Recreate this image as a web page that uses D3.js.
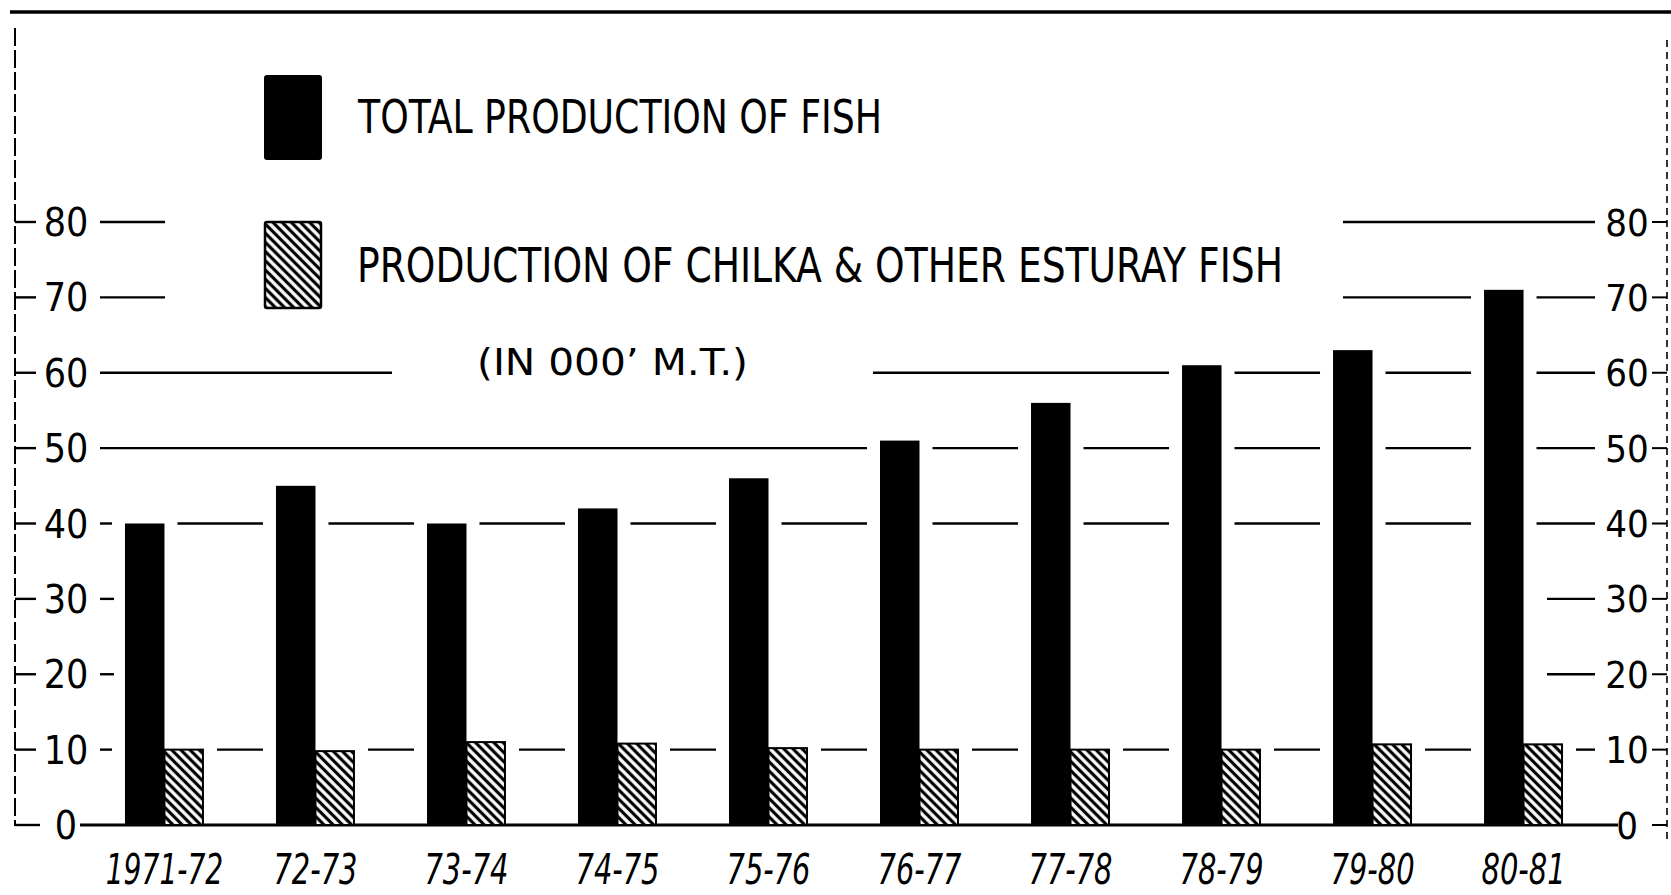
<!DOCTYPE html>
<html><head><meta charset="utf-8">
<script src="https://cdn.jsdelivr.net/npm/d3@7"></script>
<style>
html,body{margin:0;padding:0;background:#fff;}
svg{display:block;}
text{font-family:"Liberation Sans Narrow","DejaVu Sans Condensed","Liberation Sans",sans-serif;fill:#000;}
</style></head><body>
<svg id="chart" width="1671" height="895"></svg>
<script>
const categories = ["1971-72","72-73","73-74","74-75","75-76","76-77","77-78","78-79","79-80","80-81"];
const totalProduction = [40,45,40,42,46,51,56,61,63,71];
const chilkaProduction = [10,9.8,11,10.8,10.2,10,10,10,10.7,10.7];
const seriesNames = ["TOTAL PRODUCTION OF FISH","PRODUCTION OF CHILKA & OTHER ESTURAY FISH"];
const unitNote = "(IN 000\u2019 M.T.)";
const yTicks = [0,10,20,30,40,50,60,70,80];
const interiorLevels = [10,40,50,60,70,80];

const svg = d3.select("#chart");
const y = d3.scaleLinear().domain([0,80]).range([825,222]);
const x = d3.scaleBand().domain(categories).range([54,1634]).paddingInner(0.477).paddingOuter(0.47);
const xs = d3.scaleBand().domain(["total","chilka"]).range([0,x.bandwidth()]);

// hatch pattern
const defs = svg.append("defs");
const pat = defs.append("pattern").attr("id","hatch").attr("patternUnits","userSpaceOnUse")
  .attr("width",6.5).attr("height",6.5).attr("patternTransform","rotate(-45)");
pat.append("rect").attr("width",6.5).attr("height",6.5).attr("fill","#fff");
pat.append("line").attr("x1",3.25).attr("x2",3.25).attr("y1",0).attr("y2",6.5).attr("stroke","#000").attr("stroke-width",3.2);

// top rule
svg.append("line").attr("x1",10).attr("x2",1671).attr("y1",12).attr("y2",12).attr("stroke","#000").attr("stroke-width",3.5);

// legend
const lg = svg.append("g");
const item1 = lg.append("g");
item1.append("rect").attr("x",264).attr("y",75).attr("width",58).attr("height",85).attr("rx",3).attr("fill","#000");
item1.append("text").attr("x",358).attr("y",133).attr("font-size",47).attr("textLength",524).attr("lengthAdjust","spacingAndGlyphs").text(seriesNames[0]);
const item2 = lg.append("g");
item2.append("rect").attr("x",265).attr("y",222).attr("width",56).attr("height",86).attr("rx",2).attr("fill","url(#hatch)").attr("stroke","#000").attr("stroke-width",2.5);
item2.append("text").attr("x",357).attr("y",282).attr("font-size",48).attr("textLength",926).attr("lengthAdjust","spacingAndGlyphs").text(seriesNames[1]);
const note = lg.append("g");
note.append("text").attr("x",477).attr("y",375).attr("font-size",38).attr("textLength",271).attr("lengthAdjust","spacingAndGlyphs").text(unitNote);

const legendBoxes = [item1,item2,note].map(g => g.node().getBBox());
const legendPads = [[100,60],[100,60],[85,125]];

// gridlines
const lineStart = 100, lineEnd = 1595;
const pad = 13;
function blocksFor(level){
  const b = [];
  categories.forEach((c,i) => {
    const x0 = x(c);
    if (totalProduction[i] >= level - 0.5) {
      let r = x0 + xs("total") + xs.bandwidth();
      if (chilkaProduction[i] >= level - 0.5) r = x0 + xs("chilka") + xs.bandwidth();
      b.push([x0 - pad, r + pad]);
    }
  });
  const yy = y(level);
  legendBoxes.forEach((bb,k) => {
    if (yy >= bb.y - 6 && yy <= bb.y + bb.height + 6) b.push([bb.x - legendPads[k][0], bb.x + bb.width + legendPads[k][1]]);
  });
  b.sort((a,c) => a[0]-c[0]);
  return b;
}
function segmentsFor(level){
  const segs = [];
  let cur = lineStart;
  blocksFor(level).forEach(([a,c]) => {
    if (a > cur) segs.push([cur, Math.min(a, lineEnd)]);
    cur = Math.max(cur, c);
  });
  if (cur < lineEnd) segs.push([cur, lineEnd]);
  return segs.filter(s => s[1] - s[0] > 4);
}
const gridSegs = [];
yTicks.forEach(v => {
  if (v === 0) return;
  if (interiorLevels.includes(v)) {
    segmentsFor(v).forEach(s => gridSegs.push({v, a:s[0], b:s[1]}));
  } else {
    gridSegs.push({v, a:lineStart, b:114});
    gridSegs.push({v, a:1547, b:lineEnd});
  }
});
svg.append("g").selectAll("line").data(gridSegs).join("line")
  .attr("x1",d=>d.a).attr("x2",d=>d.b).attr("y1",d=>y(d.v)).attr("y2",d=>y(d.v))
  .attr("stroke","#000").attr("stroke-width",2.4);

// baseline
svg.append("line").attr("x1",80).attr("x2",1618).attr("y1",y(0)).attr("y2",y(0)).attr("stroke","#000").attr("stroke-width",3);

// left axis
svg.append("line").attr("x1",15).attr("x2",15).attr("y1",28).attr("y2",y(0)+1).attr("stroke","#000").attr("stroke-width",2).attr("stroke-dasharray","18,4");
const leftAxis = d3.axisLeft(y).tickValues(yTicks).tickSize(0).tickPadding(0);
const la = svg.append("g").attr("transform","translate(66,0)").call(leftAxis);
la.select(".domain").remove();
la.selectAll("text").attr("x",0).attr("text-anchor","middle").attr("dominant-baseline","central").attr("dy",null)
  .attr("font-size",39).attr("font-family",null);
svg.append("g").selectAll("line").data(yTicks).join("line")
  .attr("x1",15).attr("x2",d=>d===0?40:36).attr("y1",d=>y(d)).attr("y2",d=>y(d)).attr("stroke","#000").attr("stroke-width",2.4);

// right axis
svg.append("line").attr("x1",1667).attr("x2",1667).attr("y1",40).attr("y2",840).attr("stroke","#000").attr("stroke-width",1.6).attr("stroke-dasharray","7,5");
const rightAxis = d3.axisRight(y).tickValues(yTicks).tickSize(0).tickPadding(0);
const ra = svg.append("g").attr("transform","translate(1627,0)").call(rightAxis);
ra.select(".domain").remove();
ra.selectAll("text").attr("x",0).attr("text-anchor","middle").attr("dominant-baseline","central").attr("dy",null)
  .attr("font-size",38).attr("font-family",null).attr("fill","#111");
svg.append("g").selectAll("line").data(yTicks).join("line")
  .attr("x1",1652).attr("x2",1667).attr("y1",d=>y(d)).attr("y2",d=>y(d)).attr("stroke","#000").attr("stroke-width",2);

// bars
const groups = svg.append("g").selectAll("g").data(categories).join("g")
  .attr("transform",c=>`translate(${x(c)},0)`);
groups.append("rect").attr("x",xs("total")).attr("width",xs.bandwidth())
  .attr("y",(c,i)=>y(totalProduction[i])).attr("height",(c,i)=>y(0)-y(totalProduction[i]))
  .attr("fill","#000");
groups.append("rect").attr("x",xs("chilka")).attr("width",xs.bandwidth()-1)
  .attr("y",(c,i)=>y(chilkaProduction[i])).attr("height",(c,i)=>y(0)-y(chilkaProduction[i]))
  .attr("fill","url(#hatch)").attr("stroke","#000").attr("stroke-width",2);

// category labels
const bottomAxis = d3.axisBottom(x).tickSize(0).tickPadding(0);
const ba = svg.append("g").attr("transform","translate(0,884)").call(bottomAxis);
ba.select(".domain").remove();
ba.selectAll("text").attr("y",0).attr("dy",null).attr("font-size",42).attr("font-style","italic").attr("font-family",null)
  .attr("textLength",d=>d.length*16.8).attr("lengthAdjust","spacingAndGlyphs");
</script>
</body></html>
